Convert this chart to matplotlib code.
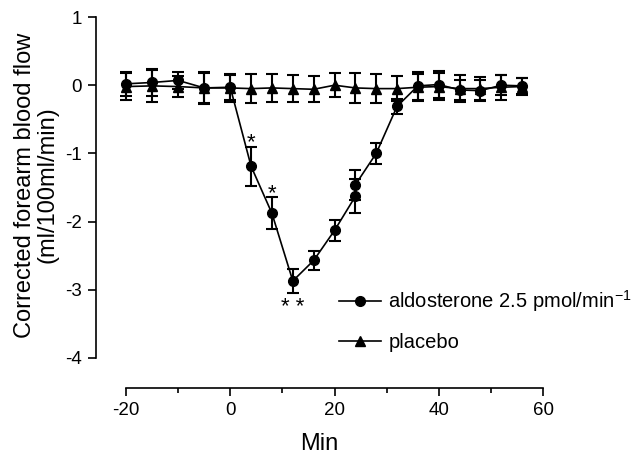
import numpy as np
import matplotlib
matplotlib.use('Agg')
import matplotlib.pyplot as plt
from matplotlib.lines import Line2D
from matplotlib.ticker import MultipleLocator

plt.rcParams['font.family'] = ['Liberation Sans', 'DejaVu Sans']
plt.rcParams['mathtext.fontset'] = 'custom'
plt.rcParams['mathtext.rm'] = 'Liberation Sans'
plt.rcParams['mathtext.it'] = 'Liberation Sans'
plt.rcParams['axes.unicode_minus'] = False

# aldosterone 2.5 pmol/min
aldo_t = [-20, -15, -10, -5, 0, 4, 8, 12, 16, 20, 24, 24, 28, 32, 36, 40, 44, 48, 52, 56]
aldo_y = [0.02, 0.04, 0.07, -0.04, -0.03, -1.19, -1.88, -2.87, -2.57, -2.13,
          -1.63, -1.46, -1.0, -0.31, -0.01, 0.01, -0.07, -0.08, 0.0, -0.01]
aldo_err = [0.18, 0.2, 0.12, 0.22, 0.18, 0.29, 0.235, 0.175, 0.14, 0.16,
            0.25, 0.22, 0.15, 0.11, 0.2, 0.2, 0.15, 0.15, 0.15, 0.12]

# placebo
plac_t = [-20, -15, -10, -5, 0, 4, 8, 12, 16, 20, 24, 28, 32, 36, 40, 44, 48, 52, 56]
plac_y = [-0.02, -0.01, -0.02, -0.04, -0.04, -0.05, -0.04, -0.05, -0.06, 0.0,
          -0.04, -0.05, -0.05, -0.03, -0.02, -0.05, -0.05, -0.03, -0.02]
plac_err = [0.2, 0.23, 0.15, 0.23, 0.2, 0.21, 0.21, 0.2, 0.19, 0.18,
            0.22, 0.21, 0.18, 0.2, 0.2, 0.2, 0.17, 0.18, 0.13]

# significance marks
star_t = [4, 8, 12]
star_y = [-0.85, -1.59, -3.26]
star_txt = ['*', '*', '* *']

fig = plt.figure(figsize=(6.42, 4.58), dpi=100)
ax = fig.add_axes([96/642, 1-388/458, (543-96)/642, (388-17)/458])

ax.errorbar(plac_t, plac_y, yerr=plac_err, color='black', marker='^', ms=6.5,
            lw=1.2, elinewidth=1.5, capsize=4, capthick=1.5)
ax.errorbar(aldo_t, aldo_y, yerr=aldo_err, color='black', marker='o', ms=7,
            lw=1.2, elinewidth=1.5, capsize=4, capthick=1.5)

for t, y, s in zip(star_t, star_y, star_txt):
    ax.text(t, y, s, ha='center', va='center', fontsize=16)

ax.set_xlim(-25.76, 60)
ax.set_ylim(-4.44, 1.0)
ax.spines['top'].set_visible(False)
ax.spines['right'].set_visible(False)
ax.spines['bottom'].set_bounds(-20, 60)
ax.spines['left'].set_bounds(-4, 1)
ax.spines['bottom'].set_linewidth(1.2)
ax.spines['left'].set_linewidth(1.2)

ax.set_xticks([-20, 0, 20, 40, 60])
ax.xaxis.set_minor_locator(MultipleLocator(10))
ax.set_yticks([-4, -3, -2, -1, 0, 1])
ax.tick_params(axis='both', which='major', length=6, width=1.2, labelsize=13.5, pad=4)
ax.tick_params(axis='x', which='minor', length=3.5, width=1.2)

ax.set_xlabel('Min', fontsize=17, labelpad=10)
ax.set_ylabel('Corrected forearm blood flow\n(ml/100ml/min)', fontsize=17,
              linespacing=1.0)
ax.yaxis.set_label_coords(-0.085, 0.547)

handles = [Line2D([], [], color='black', marker='o', ms=7, lw=1.2),
           Line2D([], [], color='black', marker='^', ms=6.5, lw=1.2)]
labels = ['aldosterone 2.5 pmol/min$^{-1}$', 'placebo']
fig.legend(handles, labels, loc='upper left', bbox_to_anchor=(0.528, 0.37),
           frameon=False, fontsize=14.5, handlelength=2.1, handletextpad=0.35,
           labelspacing=0.9, borderpad=0, borderaxespad=0)

fig.savefig('out.png', dpi=100)
